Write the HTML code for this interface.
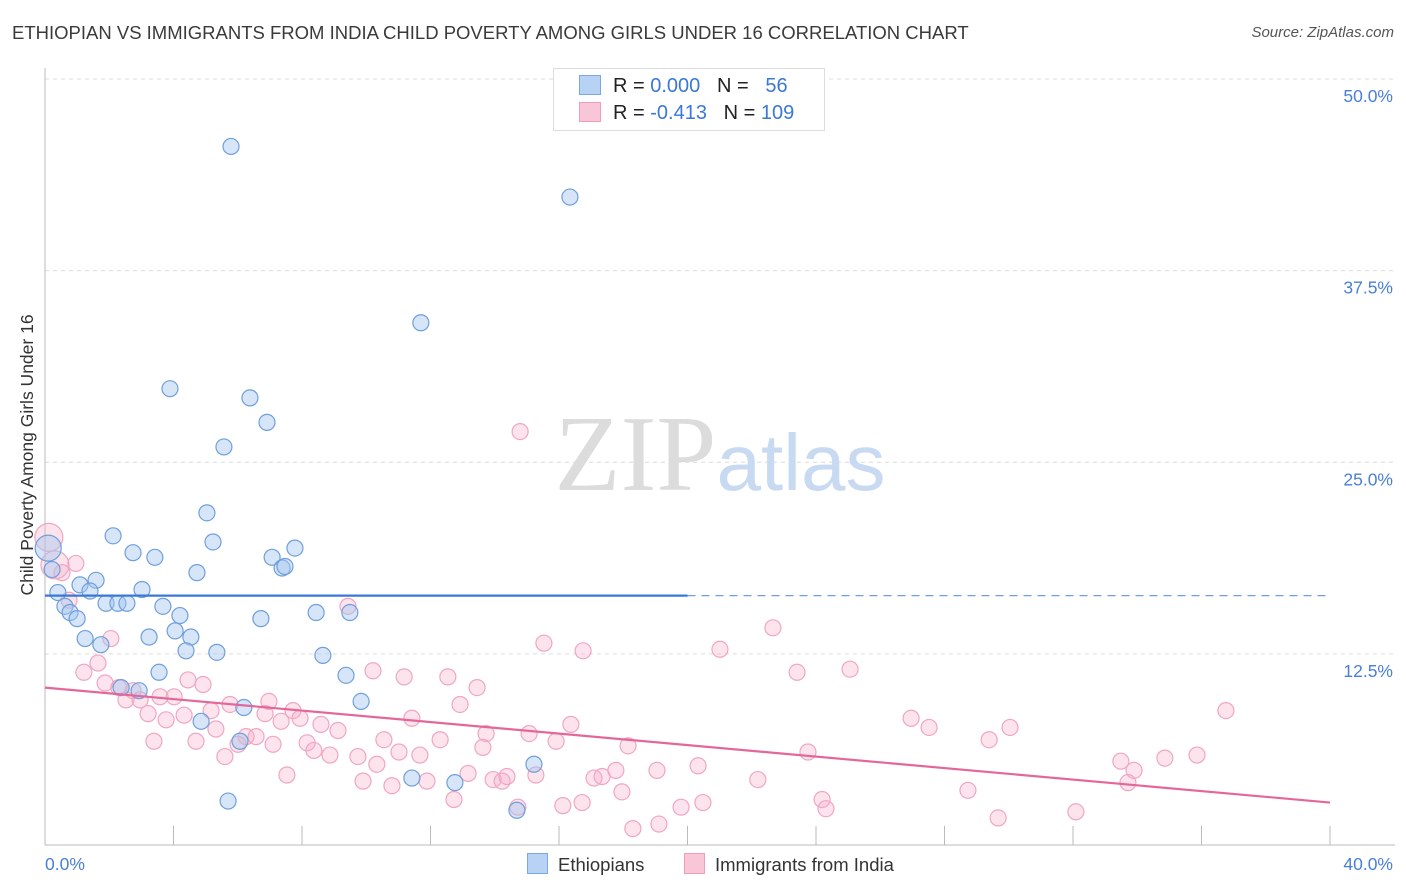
<!DOCTYPE html>
<html><head><meta charset="utf-8"><style>
body{margin:0;background:#fff;font-family:"Liberation Sans",sans-serif;}
#wrap{position:relative;width:1406px;height:892px;overflow:hidden;}
.t{position:absolute;white-space:nowrap;}
</style></head><body>
<div id="wrap">
<div class="t" style="left:12px;top:22px;font-size:18.5px;color:#3a3a3a;">ETHIOPIAN VS IMMIGRANTS FROM INDIA CHILD POVERTY AMONG GIRLS UNDER 16 CORRELATION CHART</div>
<div class="t" style="right:12px;top:24px;font-size:15px;color:#555;font-style:italic;">Source: ZipAtlas.com</div>
<svg id="svg" width="1406" height="892" style="position:absolute;left:0;top:0"></svg>
</div>
<script>
const xTicks=[4,8,12,16,20,24,28,32,36,40];
const yTicks=[12.5,25,37.5,50];
const yTickLabels=["12.5%","25.0%","37.5%","50.0%"];
const ethX=[5.79,16.34,11.70,3.89,6.38,6.91,5.57,5.04,2.12,5.23,2.74,3.42,7.07,7.78,7.38,7.47,0.22,4.73,1.59,1.09,3.02,0.40,1.40,1.90,2.27,2.55,3.67,0.62,0.78,1.00,4.20,8.44,9.49,6.72,4.05,1.25,3.24,4.54,1.74,4.39,5.35,8.65,3.55,9.37,2.37,2.93,9.84,6.19,4.86,6.07,11.42,12.76,15.22,14.69,5.70];
const ethY=[45.6,42.3,34.1,29.8,29.2,27.6,26.0,21.7,20.2,19.8,19.1,18.8,18.8,19.4,18.1,18.2,18.0,17.8,17.3,17.0,16.7,16.5,16.6,15.8,15.8,15.8,15.6,15.6,15.2,14.8,15.0,15.2,15.2,14.8,14.0,13.5,13.6,13.6,13.1,12.7,12.6,12.4,11.3,11.1,10.3,10.1,9.4,9.0,8.1,6.8,4.4,4.1,5.3,2.3,2.9];
const indX=[14.79,9.43,0.96,0.53,0.75,2.05,15.53,16.75,22.66,21.01,25.06,23.41,1.21,1.65,1.87,2.30,2.74,10.21,11.18,12.54,13.45,4.92,4.45,4.02,2.52,2.96,3.58,5.76,6.97,7.72,12.92,4.33,3.21,3.77,5.17,6.85,7.35,7.94,8.59,9.12,11.42,16.37,26.96,27.52,30.04,36.76,3.39,4.70,5.32,6.26,6.01,6.57,7.10,8.16,8.37,8.87,9.74,10.55,11.02,11.67,12.30,13.73,15.07,15.91,18.15,13.63,5.60,7.53,9.90,10.33,10.80,11.89,13.17,13.95,14.23,14.38,15.28,17.09,17.34,17.77,19.05,20.33,23.75,22.19,29.39,33.49,33.90,33.71,34.86,35.86,28.73,24.19,24.31,29.67,32.09,18.30,19.11,19.80,20.48,16.12,16.72,17.96,12.73,14.72];
const indY=[27.0,15.6,18.4,17.8,16.0,13.5,13.2,12.7,14.2,12.8,11.5,11.3,11.3,11.9,10.6,10.3,10.1,11.4,11.0,11.0,10.3,10.5,10.8,9.7,9.5,9.5,9.7,9.2,9.4,8.8,9.2,8.5,8.6,8.2,8.8,8.6,8.1,8.3,7.9,7.5,8.3,7.9,8.3,7.7,7.7,8.8,6.8,6.8,7.6,7.1,6.6,7.1,6.6,6.7,6.2,5.9,5.8,6.9,6.1,5.9,6.9,7.3,7.3,6.8,6.5,6.4,5.8,4.6,4.2,5.3,3.9,4.2,4.7,4.3,4.2,4.5,4.6,4.4,4.5,4.9,4.9,5.2,6.1,4.3,6.9,5.5,4.9,4.1,5.7,5.9,3.6,3.0,2.4,1.8,2.2,1.1,1.4,2.5,2.8,2.6,2.8,3.5,3.0,2.5];
const bigEthX=[0.1], bigEthY=[19.4];
const bigIndX=[0.12,0.31], bigIndY=[20.1,18.3];
const ethTrend=[16.3,16.3], indTrend=[10.3,2.8];

const X0=45,X1=1330,Y0=845.5,PPY=15.33;
const sx=v=>X0+(X1-X0)*v/40;
const sy=v=>Y0-v*PPY;
const svg=document.getElementById('svg');
const NS='http://www.w3.org/2000/svg';
function mk(tag,attrs){const e=document.createElementNS(NS,tag);for(const k in attrs)e.setAttribute(k,attrs[k]);svg.appendChild(e);return e;}
yTicks.forEach((v,i)=>{
 const g=mk('line',{x1:X0,x2:1395,y1:sy(v),y2:sy(v),stroke:'#dcdcdc','stroke-dasharray':'4,4'});
 
 
 const t=mk('text',{x:1393,y:sy(v)+23,'text-anchor':'end','font-size':'17.5',fill:'#4a7fd4','font-family':'Liberation Sans'});
 t.textContent=yTickLabels[i];
 
 
});
const ax=mk('line',{x1:X0,x2:X0,y1:68,y2:845,stroke:'#bbb'});


const bx=mk('line',{x1:X0,x2:1395,y1:845,y2:845,stroke:'#bbb'});


xTicks.forEach(v=>{
 const l=mk('line',{x1:sx(v),x2:sx(v),y1:826,y2:845,stroke:'#bbb'});
 
 
});
[[0,'0.0%','start',45],[40,'40.0%','end',1393]].forEach(a=>{
 const t=mk('text',{x:a[3],y:870,'text-anchor':a[2],'font-size':'17.5',fill:'#4a7fd4','font-family':'Liberation Sans'});
 t.textContent=a[1];
 
 
});
const wm=mk('text',{x:720,y:490,'text-anchor':'middle','font-size':'108','font-family':'Liberation Serif'});
wm.innerHTML='<tspan fill="#dcdcdc">ZIP</tspan><tspan fill="#c8daf2" font-family="Liberation Sans" font-size="80">atlas</tspan>';


function pts(xs,ys,r,fill,stroke,name){xs.forEach((x,i)=>{
 const c=mk('circle',{cx:sx(x),cy:sy(ys[i]),r:r,fill:fill,stroke:stroke,'stroke-width':1.2});
 
 
});}
pts(indX,indY,8,'rgba(246,176,200,0.35)','#f0a6c2','india-point');
pts(bigIndX,bigIndY,14,'rgba(246,176,200,0.35)','#f0a6c2','india-point');
pts(ethX,ethY,8,'rgba(165,198,240,0.45)','#6f9fdc','ethiopian-point');
pts(bigEthX,bigEthY,13,'rgba(165,198,240,0.45)','#6f9fdc','ethiopian-point');
const e1=mk('line',{x1:sx(0),x2:sx(20),y1:sy(ethTrend[0]),y2:sy(ethTrend[1]),stroke:'#3a78d8','stroke-width':2.2});


const e2=mk('line',{x1:sx(20),x2:sx(40),y1:sy(ethTrend[1]),y2:sy(ethTrend[1]),stroke:'#6f9fdc','stroke-width':1.3,'stroke-dasharray':'8,6'});


const p1=mk('line',{x1:sx(0),x2:sx(40),y1:sy(indTrend[0]),y2:sy(indTrend[1]),stroke:'#e4679a','stroke-width':2.2});


const yt=mk('text',{x:0,y:0,transform:'translate(33,455) rotate(-90)','text-anchor':'middle','font-size':'17.5',fill:'#333','font-family':'Liberation Sans'});
yt.textContent='Child Poverty Among Girls Under 16';


</script>
<div class="t" style="left:553px;top:68px;width:270px;height:61px;border:1px solid #ddd;background:#fff;font-size:20px;color:#222;">
 <div style="position:absolute;left:25px;top:6px;"><span style="display:inline-block;width:20px;height:18px;background:#b8d2f5;border:1px solid #7aa8e0;vertical-align:-3px;margin-right:12px"></span>R = <span style="color:#3a78d8">0.000</span>&nbsp;&nbsp;&nbsp;N = &nbsp;&nbsp;<span style="color:#3a78d8">56</span></div>
 <div style="position:absolute;left:25px;top:33px;"><span style="display:inline-block;width:20px;height:18px;background:#f8c6d6;border:1px solid #ef9dbb;vertical-align:-3px;margin-right:12px"></span>R = <span style="color:#3a78d8">-0.413</span>&nbsp;&nbsp;&nbsp;N = <span style="color:#3a78d8">109</span></div>
</div>
<div class="t" style="left:527px;top:853px;font-size:18.5px;color:#333;"><span style="display:inline-block;width:19px;height:19px;background:#b8d2f5;border:1px solid #7aa8e0;vertical-align:-3px;margin-right:10px"></span>Ethiopians</div>
<div class="t" style="left:684px;top:853px;font-size:18.5px;color:#333;"><span style="display:inline-block;width:19px;height:19px;background:#f8c6d6;border:1px solid #ef9dbb;vertical-align:-3px;margin-right:10px"></span>Immigrants from India</div>
</body></html>
